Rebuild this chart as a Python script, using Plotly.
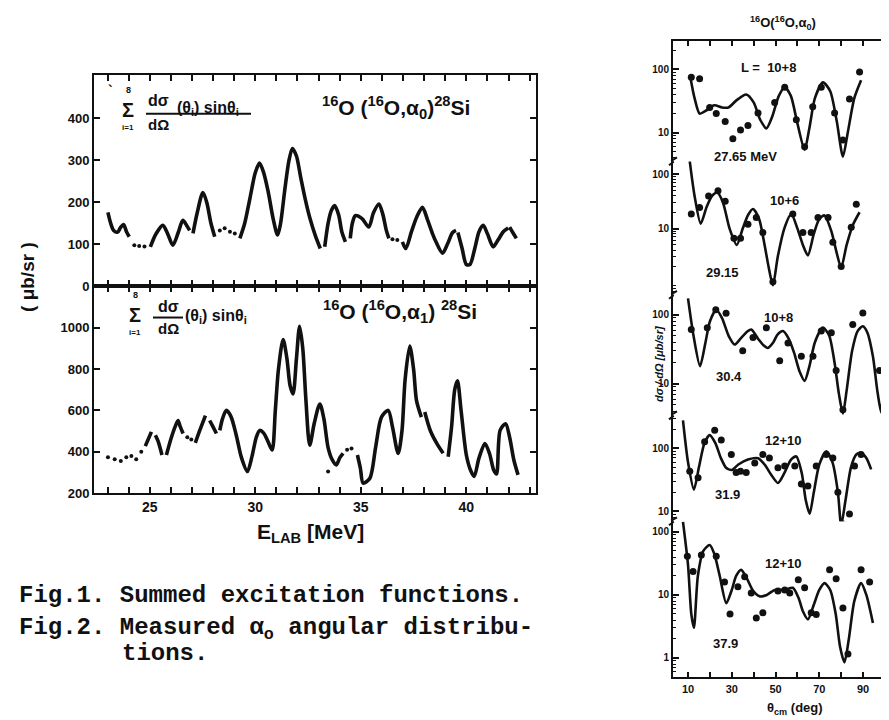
import plotly.graph_objects as go

W, H = 889, 720

# ---------------- Fig.1 data: summed excitation functions ----------------
# alpha0 (top panel), solid pieces separated by None
a0_E = [23.02, 23.15, 23.29, 23.48, 23.62, 23.76, 23.9, 24.03, None,
        25.03, 25.3, 25.62, 25.85, 26.1, 26.35, 26.57, 26.75, 26.89, None,
        27.05, 27.25, 27.52, 27.7, 27.9, 28.08, None,
        29.27, 29.5, 29.75, 30.0, 30.2, 30.4, 30.62, 30.85, 31.06, 31.2, 31.4, 31.6, 31.76,
        31.95, 32.15, 32.37, 32.6, 32.85, 33.08, None,
        33.29, 33.45, 33.6, 33.76, 33.95, 34.1, 34.27, None,
        34.5, 34.6, 34.74, 35.06, 35.38, 35.6, 35.86, 36.05, 36.2, 36.33, None,
        36.97, 37.13, 37.4, 37.65, 37.92, 38.15, 38.4, 38.56, 38.87, 39.1, 39.35, 39.51, None,
        39.6, 39.8, 40.0, 40.17, 40.4, 40.6, 40.8, 41.0, 41.27, 41.5, 41.75, 41.98, None,
        42.05, 42.2, 42.37]
a0_V = [176, 150, 133, 129, 140, 147, 130, 118, None,
        94, 125, 145, 125, 98, 128, 157, 145, 133, None,
        126, 175, 223, 200, 150, 118, None,
        114, 150, 210, 270, 293, 270, 223, 160, 122, 150, 230, 300, 328,
        310, 260, 207, 160, 120, 90, None,
        94, 150, 180, 192, 170, 130, 106, None,
        114, 150, 168, 161, 141, 175, 196, 170, 135, 114, None,
        106, 90, 130, 165, 188, 160, 125, 106, 79, 100, 128, 133, None,
        128, 90, 52, 52, 90, 130, 145, 125, 94, 110, 130, 139, None,
        141, 128, 114]
a0_dot_E = [24.27, 24.5, 24.75, 28.32, 28.55, 28.8, 29.03, 36.5, 36.73]
a0_dot_V = [98, 96, 95, 133, 138, 130, 126, 112, 110]

# alpha1 (bottom panel)
a1_E = [24.79, 24.95, 25.08, None,
        25.27, 25.4, 25.58, None,
        25.79, 26.0, 26.2, 26.34, 26.45, 26.58, None,
        27.16, 27.37, 27.64, None,
        27.84, 28.0, 28.16, None,
        28.32, 28.45, 28.63, 28.85, 29.1, 29.35, 29.63, 29.85, 30.05, 30.21, 30.4, 30.6, 30.8,
        30.95, 31.1, 31.32, 31.5, 31.65, 31.79, 31.95, 32.1, 32.25, 32.4, 32.58, 32.8, 33.06,
        33.25, 33.45, 33.65, 33.84, 34.0, 34.16, None,
        34.84, 34.98, 35.11, 35.43, 35.7, 35.98, 36.3, 36.5, 36.77, 36.95, 37.1, 37.32, 37.5,
        37.64, 37.87, None,
        38.03, 38.3, 38.6, 38.9, None,
        39.14, 39.3, 39.45, 39.58, 39.75, 40.0, 40.2, 40.37, 40.6, 40.88, 41.1, 41.3, 41.43,
        41.6, 41.86, 42.05, 42.25, 42.45]
a1_V = [427, 465, 496, None,
        480, 450, 384, None,
        384, 460, 520, 551, 520, 488, None,
        443, 503, 575, None,
        551, 520, 488, None,
        503, 560, 600, 570, 480, 370, 304, 380, 470, 503, 490, 450, 408,
        600, 800, 943, 850, 720, 679, 850, 1007, 900, 650, 432, 540, 631,
        560, 420, 360, 336, 370, 392, None,
        384, 320, 248, 272, 420, 567, 600, 520, 392, 500, 750, 911, 800,
        647, 567, None,
        592, 500, 440, 392, None,
        376, 520, 700, 743, 600, 384, 310, 280, 370, 440, 390, 310, 292,
        503, 535, 470, 360, 288]
a1_dot_E = [23.02, 23.34, 23.63, 23.89, 24.13, 24.36, 24.6, 26.78, 26.97, 34.35, 34.56, 33.45]
a1_dot_V = [373, 363, 355, 373, 379, 364, 400, 470, 459, 410, 416, 304]

# ---------------- Fig.2 data: alpha0 angular distributions ----------------
energies = ["27.65 MeV", "29.15", "30.4", "31.9", "37.9"]
l_windows = ["L =  10+8", "10+6", "10+8", "12+10", "12+10"]
y_ticks = [[10, 100], [10, 100], [10, 100], [10, 100], [1, 10, 100]]

fit_th_1 = [11.2, 13, 15.3, 18, 22, 25.5, 28.5, 32, 36.6, 40, 43, 45.8, 48.5, 51.5, 54.2, 57, 60,
            63.3, 65.5, 68, 71.7, 75, 78, 80.8, 83, 86, 89.1]
fit_v_1 = [71, 35, 20, 22, 27, 25, 25, 32, 40, 30, 16, 11.7, 18, 38, 52, 38, 14,
           5.4, 12, 35, 62, 45, 15, 4.2, 10, 35, 67]
exp_th_1 = [11.5, 15.3, 19.9, 22.9, 27, 30.5, 34, 37.4, 42, 49.6, 54.2, 59.5, 63.3, 67, 70.9,
            77, 80.8, 83.8, 88.4]
exp_v_1 = [75, 71, 25, 20, 15, 8, 11, 13, 20.5, 30, 52, 16, 6, 25.6, 52, 20.5, 7.7, 34, 90]

fit_th_2 = [10.8, 13, 15.8, 18.5, 21, 23.4, 26, 29, 32.3, 35, 37.5, 39.7, 42.5, 45, 46.8, 48.8,
            51, 54, 57.2, 60, 62.5, 64.8, 67.5, 70, 72.4, 75.5, 78, 80, 82.5, 85.5, 88.4]
fit_v_2 = [173, 40, 12.3, 25, 40, 46, 30, 10, 5, 10, 18, 23, 15, 5, 2, 0.9,
           3, 10, 18.5, 10, 5, 3.2, 8, 15, 17.5, 9, 3.5, 1.9, 5, 12, 20]
exp_th_2 = [11.5, 15.3, 19.4, 23.7, 27, 31, 34, 37.4, 41.2, 44.2, 48.8, 57.9, 62.5, 66.3, 69.4,
            74, 76.2, 80, 84.6, 86.9]
exp_v_2 = [18.6, 24.5, 40, 50, 32, 6.6, 6.6, 12, 16, 8.5, 1.05, 18.5, 8.5, 8.5, 16,
           16, 5.6, 2, 10.6, 28]

fit_th_3 = [10, 12.5, 15.5, 18, 20, 22.9, 25.5, 28.5, 31.3, 34, 36.5, 38.9, 42, 44.5, 46.5, 49,
            51, 53.4, 56, 58.5, 61, 63.3, 65.5, 68, 71.6, 74.5, 77, 79, 80.8, 82.5, 85, 87.5,
            89.9, 92, 94.5, 96.5, 98.3, 99.8]
fit_v_3 = [173, 50, 18, 40, 80, 118, 90, 50, 37, 45, 55, 61, 45, 36, 33, 40,
           52, 58, 45, 28, 15, 11, 18, 40, 65, 50, 20, 7, 3.7, 8, 30, 58,
           68, 55, 25, 8, 3.8, 14]
exp_th_3 = [11.5, 18.8, 22.7, 27.4, 35, 39.7, 45.8, 51.9, 55.7, 61.8, 67.1, 70.9, 75.5, 77.7,
            80.8, 85.3, 89.9, 97.5, 99]
exp_v_3 = [61, 65, 118, 105, 30, 47, 65, 21.5, 39, 25, 25, 58, 55, 15.5,
           4.2, 72, 106, 15.5, 4.6]

fit_th_4 = [7.7, 10, 12.7, 15, 17.5, 19.9, 22.5, 25, 27.4, 30, 33, 37.4, 42, 45, 48, 51.1, 54, 57,
            59.5, 62, 63.8, 65.6, 67.5, 70, 73.2, 76, 78.5, 80, 82, 84.5, 87, 89.1, 91.5, 93.7]
fit_v_4 = [277, 60, 22, 50, 120, 161, 120, 70, 49, 45, 55, 66, 69, 55, 38, 28, 40, 65,
           74, 40, 15, 9.1, 20, 55, 89, 60, 20, 6, 15, 50, 80, 84, 70, 46]
exp_th_4 = [10.8, 14.6, 17.6, 22.2, 25.2, 29.8, 32, 34, 36.6, 40.5, 44.2, 47.2, 51.1, 54.2, 58.8,
            61.8, 64.8, 68.6, 73.2, 76.2, 78.5, 80.5, 83.8, 86.1, 89.1]
exp_v_4 = [43, 34, 127, 193, 135, 79, 41, 43, 41, 58, 79, 70, 49, 52, 52,
           27, 25, 52, 79, 70, 20, 6.3, 9, 52, 79]

fit_th_5 = [7.7, 10, 11.5, 12.7, 14.5, 17, 19.9, 22, 24.5, 27.5, 30, 32, 34.3, 37, 39.5, 42.7, 46,
            49.6, 54, 57.9, 60.5, 62.5, 64.8, 67.5, 70, 72.4, 75, 77.5, 79.5, 81.5, 83.5, 86,
            89.1, 91.5, 94.5]
fit_v_5 = [144, 30, 5, 3, 20, 50, 62, 45, 20, 7.4, 12, 20, 25, 18, 12, 9.5, 10,
           12, 12, 13, 9, 5.5, 4.1, 7, 12, 15.4, 12, 5, 1.5, 0.85, 2, 8,
           15.4, 10, 3.6]
exp_th_5 = [9.7, 12.3, 16.1, 22.9, 26.7, 29.2, 32.8, 35.9, 38.9, 41.2, 44.2, 51.1, 54.2, 56.5,
            60.4, 63.3, 66.3, 68.6, 74.7, 77.7, 80.8, 83.1, 89.1, 93]
exp_v_5 = [41, 23.5, 43, 41, 16, 5, 13.5, 19.5, 10.7, 4.3, 5.2, 11.5, 12, 10.7,
           17.5, 13, 5.2, 4.9, 25, 18, 6.2, 1.15, 25, 16]

fits = [(fit_th_1, fit_v_1), (fit_th_2, fit_v_2), (fit_th_3, fit_v_3), (fit_th_4, fit_v_4),
        (fit_th_5, fit_v_5)]
exps = [(exp_th_1, exp_v_1), (exp_th_2, exp_v_2), (exp_th_3, exp_v_3), (exp_th_4, exp_v_4),
        (exp_th_5, exp_v_5)]

# ---------------- layout helpers ----------------
def px(x, y):
    return x / W, 1 - y / H

def dom_x(a, b):
    return [a / W, b / W]

def dom_y(top, bottom):
    return [1 - bottom / H, 1 - top / H]

SANS = "Liberation Sans, Arial, sans-serif"
MONO = "Liberation Mono, Courier New, monospace"
INK = "#111111"

fig = go.Figure()

# left panels
fig.add_trace(go.Scatter(x=a0_E, y=a0_V, mode="lines", line=dict(color=INK, width=3.6, shape="spline", smoothing=0.8),
                         connectgaps=False, xaxis="x", yaxis="y", showlegend=False, hoverinfo="skip"))
fig.add_trace(go.Scatter(x=a0_dot_E, y=a0_dot_V, mode="markers", marker=dict(color=INK, size=4),
                         xaxis="x", yaxis="y", showlegend=False, hoverinfo="skip"))
fig.add_trace(go.Scatter(x=a1_E, y=a1_V, mode="lines", line=dict(color=INK, width=3.6, shape="spline", smoothing=0.8),
                         connectgaps=False, xaxis="x2", yaxis="y2", showlegend=False, hoverinfo="skip"))
fig.add_trace(go.Scatter(x=a1_dot_E, y=a1_dot_V, mode="markers", marker=dict(color=INK, size=4),
                         xaxis="x2", yaxis="y2", showlegend=False, hoverinfo="skip"))

# right panels
for i, ((ft, fv), (et, ev)) in enumerate(zip(fits, exps)):
    n = i + 3
    fig.add_trace(go.Scatter(x=ft, y=fv, mode="lines", line=dict(color=INK, width=2.6, shape="spline", smoothing=0.7),
                             xaxis=f"x{n}", yaxis=f"y{n}", showlegend=False, hoverinfo="skip", cliponaxis=True))
    fig.add_trace(go.Scatter(x=et, y=ev, mode="markers", marker=dict(color=INK, size=7),
                             xaxis=f"x{n}", yaxis=f"y{n}", showlegend=False, hoverinfo="skip", cliponaxis=True))

tickfont_l = dict(family=SANS, size=13, color=INK, weight="bold")
tickfont_r = dict(family=SANS, size=10, color=INK, weight="bold")

LX = dom_x(86, 528)
ax_common = dict(showline=True, linecolor=INK, linewidth=2, mirror="ticks", ticks="inside",
                 tickcolor=INK, ticklen=6, tickwidth=2, showgrid=False, zeroline=False)

layout = dict(
    width=W, height=H, margin=dict(l=0, r=0, t=0, b=0), autosize=False,
    paper_bgcolor="white", plot_bgcolor="rgba(0,0,0,0)",
    xaxis=dict(domain=LX, range=[22.36, 43.3], anchor="y", tickvals=[23 + k for k in range(21)],
               showticklabels=False, **ax_common),
    yaxis=dict(domain=dom_y(68, 281.5), range=[0, 502], anchor="x", tickvals=[0, 100, 200, 300, 400],
               tickfont=tickfont_l, **ax_common),
    xaxis2=dict(domain=LX, range=[22.36, 43.3], anchor="y2", tickvals=[23 + k for k in range(21)],
                ticktext=[str(23 + k) if (23 + k) % 5 == 0 else "" for k in range(21)],
                tickfont=dict(family=SANS, size=14, color=INK, weight="bold"), **ax_common),
    yaxis2=dict(domain=dom_y(281.5, 490.5), range=[200, 1200], anchor="x2",
                tickvals=[200, 400, 600, 800, 1000], tickfont=tickfont_l, **ax_common),
)

RX = dom_x(665, 880)
panels_px = [(33, 155, [0.55, 2.45]), (155, 290, [-0.22, 2.24]), (290, 412, [0.54, 2.29]),
             (412, 519, [0.84, 2.52]), (519, 677, [-0.31, 2.17])]
minor_vals = [m * 10 ** d for d in (-1, 0, 1, 2) for m in (2, 3, 4, 5, 6, 7, 8, 9)]
for i, (top, bot, rng) in enumerate(panels_px):
    n = i + 3
    xa = dict(domain=RX, range=[3.14, 101.4], anchor=f"y{n}", showgrid=False, zeroline=False,
              tickvals=[10, 20, 30, 40, 50, 60, 70, 80, 90, 100])
    if i == 0:
        xa.update(showline=True, linecolor=INK, linewidth=2, side="top", ticks="inside", ticklen=5,
                  tickwidth=2, tickcolor=INK, showticklabels=False)
    elif i == 4:
        xa.update(showline=True, linecolor=INK, linewidth=2, ticks="inside", ticklen=5, tickwidth=2,
                  tickcolor=INK, ticktext=["10", "", "30", "", "50", "", "70", "", "90", ""],
                  tickfont=dict(family=SANS, size=11, color=INK, weight="bold"))
    else:
        xa.update(showline=False, ticks="", showticklabels=False)
    tv = y_ticks[i]
    ya = dict(domain=dom_y(top, bot), type="log", range=rng, anchor=f"x{n}", showline=True,
              linecolor=INK, linewidth=2, mirror="ticks", ticks="inside", ticklen=6, tickwidth=2,
              tickcolor=INK, showgrid=False, zeroline=False, tickvals=tv,
              ticktext=[str(v) for v in tv], tickfont=tickfont_r,
              minor=dict(tickvals=minor_vals, ticks="inside", ticklen=3, tickwidth=1, tickcolor=INK))
    layout[f"xaxis{n}"] = xa
    layout[f"yaxis{n}"] = ya

fig.update_layout(**layout)

annots = []
def text(x, y, s, size, family=SANS, bold=True, xanchor="center", angle=0, italic=False):
    ax, ay = px(x, y)
    annots.append(dict(x=ax, y=ay, xref="paper", yref="paper", text=s, showarrow=False,
                       xanchor=xanchor, yanchor="middle", textangle=angle, borderpad=0,
                       font=dict(family=family, size=size, color=INK, weight="bold" if bold else "normal",
                                 style="italic" if italic else "normal")))

# left figure texts
text(102, 84, "`", 14)
text(120, 83, "8", 9)
text(120, 103, "Σ", 20)
text(120, 121, "i=1", 8)
text(150, 94, "dσ", 16)
text(150, 118, "dΩ", 15)
text(168, 102, "(θ<sub>i</sub>) sinθ<sub>i</sub>", 16, xanchor="left")
text(388, 101, "<sup>16</sup>O (<sup>16</sup>O,α<sub>0</sub>)<sup>28</sup>Si", 21)

text(127, 290, "8", 9)
text(127, 310, "Σ", 20)
text(127, 328, "i=1", 8)
text(160, 302, "dσ", 16)
text(160, 324, "dΩ", 15)
text(176, 312, "(θ<sub>i</sub>) sinθ<sub>i</sub>", 16, xanchor="left")
text(392, 307, "<sup>16</sup>O (<sup>16</sup>O,α<sub>1</sub>) <sup>28</sup>Si", 21)

text(20, 272, "( μb/sr )", 19, angle=-90)
text(302, 531, "E<sub>LAB</sub> [MeV]", 21)

# captions
text(10, 594, "Fig.1. Summed excitation functions.", 24, family=MONO, xanchor="left")
text(10, 628, "Fig.2. Measured α<sub>o</sub> angular distribu-", 24, family=MONO, xanchor="left")
text(113, 653, "tions.", 24, family=MONO, xanchor="left")

# right figure texts
text(775, 15, "<sup>16</sup>O(<sup>16</sup>O,α<sub>0</sub>)", 13)
label_pos = [(760, 60), (776, 195), (770, 313), (775, 437), (775, 562)]
energy_pos = [(737, 150), (714, 267), (721, 373), (719, 492), (717, 643)]
for s, (x, y) in zip(l_windows, label_pos):
    text(x, y, s, 13)
for s, (x, y) in zip(energies, energy_pos):
    text(x, y, s, 13)
text(651, 360, "dσ / dΩ [μb/sr]", 11, angle=-90, italic=True)
text(787, 708, "θ<sub>cm</sub> (deg)", 13)

fig.update_layout(annotations=annots)

shapes = []
# fraction bars (top one runs under the whole expression, as in the scan)
for (x0, x1, y) in [(138, 243, 107), (145, 175, 313)]:
    a0, b0 = px(x0, y)
    a1_, _ = px(x1, y)
    shapes.append(dict(type="line", xref="paper", yref="paper", x0=a0, x1=a1_, y0=b0, y1=b0,
                       line=dict(color=INK, width=2)))
# axis-break marks between stacked log panels
for yb in (155, 290, 412, 519):
    for xb in (665, 880):
        pts = [px(xb - 4, yb + 4), px(xb + 0, yb + 1), px(xb - 1, yb - 1), px(xb + 4, yb - 4)]
        path = "M {} {} L {} {} L {} {} L {} {}".format(*[c for p in pts for c in p])
        shapes.append(dict(type="path", xref="paper", yref="paper", path=path,
                           line=dict(color=INK, width=2)))
fig.update_layout(shapes=shapes)

fig.write_html("out.html")
